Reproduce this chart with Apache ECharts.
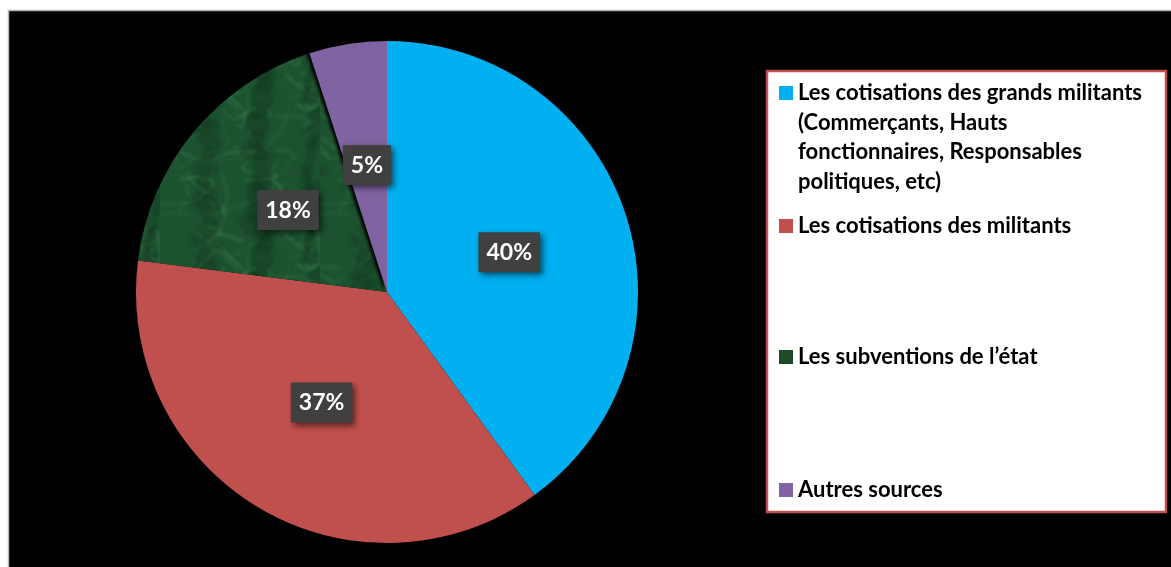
<!DOCTYPE html>
<html><head><meta charset="utf-8">
<script src="https://cdn.jsdelivr.net/npm/echarts@6/dist/echarts.min.js"></script>
<style>html,body{margin:0;padding:0;background:#fff}#c{width:1171px;height:567px}</style>
</head><body><div id="c"></div>
<script>
const categories = [
  'Les cotisations des grands militants (Commerçants, Hauts fonctionnaires, Responsables politiques, etc)',
  'Les cotisations des militants',
  'Les subventions de l’état',
  'Autres sources'
];
const legendLabels = [
  'Les cotisations des grands militants\n(Commerçants, Hauts\nfonctionnaires, Responsables\npolitiques, etc)',
  'Les cotisations des militants',
  'Les subventions de l’état',
  'Autres sources'
];
const values = [40, 37, 18, 5];

// decorative marble-like texture for the green slice (deterministic)
function marbleTexture() {
  const c = document.createElement('canvas');
  c.width = 160; c.height = 160;
  const g = c.getContext('2d');
  g.fillStyle = '#1c5230';
  g.fillRect(0, 0, 160, 160);
  g.filter = 'blur(1.6px)';
  for (let k = 0; k < 70; k++) {
    const x = (k * 37) % 160, y = (k * 73) % 160;
    const a = 0.10 + 0.12 * ((k * 13) % 5) / 5;
    g.strokeStyle = 'rgba(105,185,125,' + a + ')';
    g.lineWidth = 1 + (k % 3);
    g.beginPath();
    g.moveTo(x, y);
    g.bezierCurveTo(x + 20 * Math.sin(k), y + 15, x + 30, y + 25 * Math.cos(k),
                    x + 40 * Math.cos(k * 1.7), y + 40 * Math.sin(k * 1.3));
    g.stroke();
  }
  for (let k = 0; k < 40; k++) {
    const x = (k * 53) % 160, y = (k * 29 + 11) % 160;
    g.fillStyle = 'rgba(10,40,20,0.25)';
    g.beginPath();
    g.ellipse(x, y, 8 + (k % 4) * 3, 5 + (k % 3) * 3, k, 0, Math.PI * 2);
    g.fill();
  }
  return c;
}

const sliceColors = ['#00b0f0', '#c0504d', {image: marbleTexture(), repeat: 'repeat'}, '#8064a2'];
const iconColors = ['#00b0f0', '#c0504d', '#1e4a2a', '#8064a2'];
const itemPads = [[0, 0, 0, 0], [15, 0, 15, 0], [86.5, 0, 86.5, 0], [17, 0, 17, 0]];

const chart = echarts.init(document.getElementById('c'), null, {renderer: 'canvas'});
chart.setOption({
  backgroundColor: '#ffffff',
  animation: false,
  graphic: {
    elements: [
      {type: 'rect', z: -10, shape: {x: 8.5, y: 10.5, width: 1170, height: 570},
       style: {fill: '#000000', stroke: '#b4b4b4', lineWidth: 1.5}},
      {type: 'rect', z: -9, shape: {x: 767, y: 71, width: 399, height: 441},
       style: {fill: '#ffffff', stroke: '#c0504d', lineWidth: 2.5}}
    ]
  },
  legend: {
    orient: 'vertical',
    left: 779,
    top: -10.25,
    padding: 0,
    itemGap: 0,
    itemWidth: 14,
    itemHeight: 14,
    icon: 'rect',
    selectedMode: false,
    textStyle: {fontFamily: 'Lato', fontWeight: 'bold', fontSize: 22, lineHeight: 29.5, color: '#000'},
    formatter: name => {
      const t = legendLabels[categories.indexOf(name)];
      const n = t.split('\n').length - 1;
      return '\n'.repeat(n) + t;
    },
    data: categories.map((c, i) => ({
      name: c,
      itemStyle: {color: iconColors[i]},
      textStyle: {padding: itemPads[i]}
    }))
  },
  series: [{
    type: 'pie',
    center: [387, 292],
    radius: [0, 251],
    startAngle: 90,
    clockwise: true,
    avoidLabelOverlap: false,
    emphasis: {disabled: true},
    label: {
      show: true,
      position: 'inside',
      formatter: p => p.value + '%',
      color: '#fff',
      fontFamily: 'Lato',
      fontWeight: 'bold',
      fontSize: 23,
      lineHeight: 24,
      backgroundColor: '#404040',
      padding: [8, 8, 8, 8],
      shadowColor: 'rgba(0,0,0,0.55)',
      shadowBlur: 6,
      shadowOffsetX: 3,
      shadowOffsetY: 3
    },
    labelLine: {show: false},
    data: categories.map((c, i) => ({
      name: c, value: values[i],
      itemStyle: i === 3
        ? {color: sliceColors[i], shadowColor: 'rgba(0,0,0,0.95)', shadowBlur: 3, shadowOffsetX: -3}
        : {color: sliceColors[i]}
    }))
  }]
});
</script></body></html>
